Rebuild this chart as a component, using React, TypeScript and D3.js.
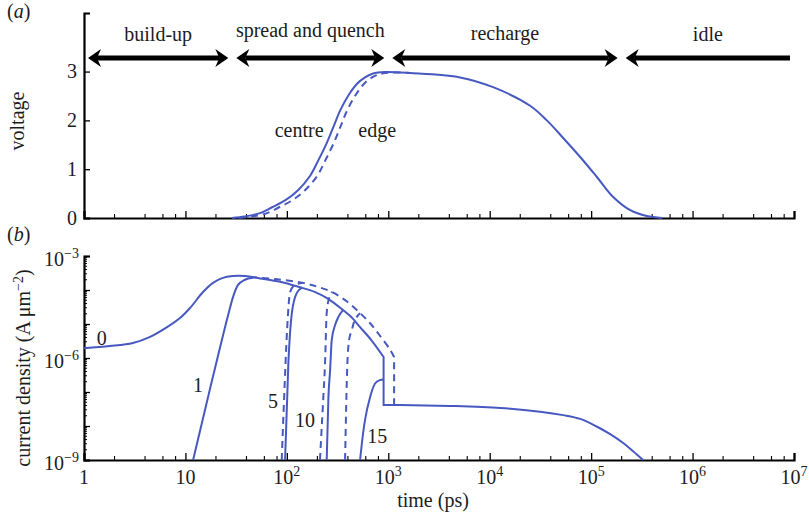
import React, { useEffect, useRef } from 'react'
import * as d3 from 'd3'

// phases shown by the arrows on top (time in ps)
const phaseNames = ['build-up', 'spread and quench', 'recharge', 'idle']
const phaseBounds = [1, 29, 1000, 2e5, 1e7]

// (a) voltage at centre and edge
const centreTime = [28.8, 38.6, 54.4, 71.5, 96, 129, 169, 203, 249, 292, 335, 401, 492, 590, 708, 930, 1640, 5100, 10800, 25000, 36600, 53000, 78000, 114000, 165000, 243000, 354000, 500000]
const centreVolt = [0, 0.03, 0.1, 0.22, 0.36, 0.57, 0.86, 1.17, 1.55, 1.9, 2.2, 2.5, 2.75, 2.88, 2.96, 2.99, 2.97, 2.88, 2.68, 2.3, 2.0, 1.64, 1.25, 0.84, 0.43, 0.16, 0.04, 0]
const edgeTime = [33.8, 45.4, 63.8, 83.8, 112.5, 151, 199, 238, 292, 342, 392, 470, 577, 692, 830, 1090, 1640]
const edgeVolt = [0, 0.03, 0.1, 0.22, 0.36, 0.57, 0.86, 1.17, 1.55, 1.9, 2.2, 2.5, 2.75, 2.88, 2.95, 2.98, 2.97]

// (b) current density, solid = centre
const j0Time = [1, 1.8, 3.04, 4.48, 6.59, 8.85, 11.1, 14.9, 18.7, 23, 29.5, 38.7, 54.4, 85.8, 135, 190, 249, 358, 440, 527, 692, 899]
const j0Val = [1.95e-6, 2.24e-6, 2.75e-6, 4.17e-6, 8.1e-6, 1.5e-5, 2.95e-5, 8.7e-5, 1.62e-4, 2.24e-4, 2.57e-4, 2.57e-4, 2.19e-4, 1.74e-4, 1.2e-4, 8.7e-5, 5.75e-5, 2.57e-5, 1.51e-5, 8.1e-6, 3.16e-6, 1.07e-6]
const tailTime = [899, 1306, 4070, 12700, 31400, 53000, 78000, 114600, 154000, 207000, 259000, 326000]
const tailVal = [4.17e-8, 4.17e-8, 3.89e-8, 3.39e-8, 2.63e-8, 2.09e-8, 1.62e-8, 9.5e-9, 5.75e-9, 3.16e-9, 1.82e-9, 1e-9]
const j1Time = [11.9, 14.3, 17.5, 21.9, 26.3, 29.5, 33, 38.6, 46.4]
const j1Val = [1e-9, 1e-8, 1.26e-7, 2e-6, 1.78e-5, 6.3e-5, 1.41e-4, 2e-4, 2.29e-4]
const j5Time = [96, 103.5, 112, 125, 140]
const j5Val = [1e-9, 7.1e-7, 2.09e-5, 8.1e-5, 1.15e-4]
const j10Time = [247, 257, 267, 277, 299, 322, 358]
const j10Val = [1e-9, 7.2e-8, 4.5e-7, 3.4e-6, 9.3e-6, 1.62e-5, 2.57e-5]
const j15Time = [527, 568, 590, 662, 741, 830, 899]
const j15Val = [1e-9, 7.1e-9, 1.51e-8, 7.1e-8, 1.78e-7, 2.24e-7, 2.34e-7]

// dashed = edge
const edgeEnvTime = [43.4, 76.5, 144.5, 203, 279, 392, 527, 662, 830, 1042, 1141, 1141]
const edgeEnvVal = [2.4e-4, 2.09e-4, 1.62e-4, 1.23e-4, 8.7e-5, 4.57e-5, 2.09e-5, 1.05e-5, 4.47e-6, 1.74e-6, 1.07e-6, 4.17e-8]
const e5Time = [89, 93.8, 100.5, 107.6, 120.6, 144.5]
const e5Val = [1e-9, 5.75e-8, 6.6e-6, 8.7e-5, 1.41e-4, 1.62e-4]
const e10Time = [212, 228, 238, 247, 261, 279]
const e10Val = [1e-9, 5.75e-8, 7.1e-7, 2.09e-5, 5.75e-5, 8.7e-5]
const e15Time = [375, 395, 411, 437, 460, 489, 527]
const e15Val = [1e-9, 6.9e-7, 3.39e-6, 6.6e-6, 1.15e-5, 1.62e-5, 2.09e-5]

// curve labels
const curveNames = ['0', '1', '5', '10', '15']
const curveNameTime = [1.5, 13.3, 73, 151, 777]
const curveNameVal = [2.4e-6, 1e-7, 3.4e-8, 9.3e-9, 3.2e-9]

const W = 809
const H = 517
const BLUE = '#4759c1'
const INK = '#1c1c1c'
const FONT = '"Liberation Serif", "Times New Roman", serif'

const zip = (a: number[], b: number[]) => a.map((v, i) => [v, b[i]] as [number, number])

export default function App () {
  const ref = useRef<SVGSVGElement>(null)

  useEffect(() => {
    const svg = d3.select(ref.current)
    svg.selectAll('*').remove()

    const x = d3.scaleLog().domain([1, 1e7]).range([84, 794])
    const v = d3.scaleLinear().domain([0, 4.2]).range([218, 13])
    const j = d3.scaleLog().domain([1e-9, 1e-3]).range([460, 256])

    const majors = d3.range(0, 8).map(e => 10 ** e)
    const minors: number[] = []
    for (let e = 0; e < 7; e++) [2, 4, 6, 8].forEach(m => minors.push(m * 10 ** e))

    const g = svg.append('g').attr('font-family', FONT).attr('fill', INK)

    // ---------- x axes (both panels) ----------
    const drawX = (y0: number) => {
      const ax = g.append('g').attr('transform', `translate(0,${y0})`)
        .call(d3.axisBottom(x).tickValues(majors).tickSizeInner(-7).tickSizeOuter(-7).tickFormat(() => ''))
      ax.select('.domain').attr('stroke', '#000').attr('stroke-width', 2.2)
      ax.selectAll('.tick line').attr('stroke', '#000').attr('stroke-width', 1.3)
      ax.selectAll('.tick text').remove()
      ax.selectAll('.minor').data(minors).enter().append('line')
        .attr('x1', d => x(d)).attr('x2', d => x(d))
        .attr('y1', 0).attr('y2', -4)
        .attr('stroke', '#000').attr('stroke-width', 1.1)
    }
    drawX(218)
    drawX(460)

    // x tick labels, bottom panel
    majors.forEach((d, e) => {
      const t = g.append('text').attr('x', x(d)).attr('y', 484)
        .attr('text-anchor', 'middle').attr('font-size', 20)
      if (e === 0) t.text('1')
      else if (e === 1) t.text('10')
      else {
        t.append('tspan').text('10')
        t.append('tspan').attr('dy', -8).attr('font-size', 14).text(String(e))
      }
    })
    g.append('text').attr('x', 433).attr('y', 507).attr('text-anchor', 'middle')
      .attr('font-size', 20).text('time (ps)')

    // ---------- y axis (a) ----------
    const ay = g.append('g').attr('transform', 'translate(84,0)')
      .call(d3.axisLeft(v).tickValues([0, 1, 2, 3]).tickSizeInner(-6).tickSizeOuter(-6).tickFormat(() => ''))
    ay.select('.domain').attr('stroke', '#000').attr('stroke-width', 2.2)
    ay.selectAll('.tick line').attr('stroke', '#000').attr('stroke-width', 1.3)
    ay.selectAll('.tick text').remove()
    ;[0, 1, 2, 3].forEach(d => {
      g.append('text').attr('x', 77).attr('y', v(d)).attr('dy', '0.34em')
        .attr('text-anchor', 'end').attr('font-size', 20).text(String(d))
    })
    g.append('text').attr('transform', 'translate(24,121) rotate(-90)')
      .attr('text-anchor', 'middle').attr('font-size', 20).text('voltage')

    // ---------- y axis (b) ----------
    const decades = d3.range(-9, -2).map(e => 10 ** e)
    const jMinor: number[] = []
    for (let e = -9; e < -3; e++) d3.range(2, 10).forEach(m => jMinor.push(m * 10 ** e))
    const by = g.append('g').attr('transform', 'translate(84,0)')
      .call(d3.axisLeft(j).tickValues(decades).tickSizeInner(-6).tickSizeOuter(-6).tickFormat(() => ''))
    by.select('.domain').attr('stroke', '#000').attr('stroke-width', 2.2)
    by.selectAll('.tick line').attr('stroke', '#000').attr('stroke-width', 1.3)
    by.selectAll('.tick text').remove()
    by.selectAll('.minor').data(jMinor).enter().append('line')
      .attr('x1', 0).attr('x2', 3).attr('y1', d => j(d)).attr('y2', d => j(d))
      .attr('stroke', '#000').attr('stroke-width', 1)
    ;[-3, -6, -9].forEach(e => {
      const t = g.append('text').attr('x', 79).attr('y', j(10 ** e) + 10)
        .attr('text-anchor', 'end').attr('font-size', 20)
      t.append('tspan').text('10')
      t.append('tspan').attr('dy', -8).attr('font-size', 14).text('\u2212' + (-e))
    })
    const yl = g.append('text').attr('transform', 'translate(30,368) rotate(-90)')
      .attr('text-anchor', 'middle').attr('font-size', 20)
    yl.append('tspan').text('current density (A \u03bcm')
    yl.append('tspan').attr('dy', -7).attr('font-size', 14).text('\u22122')
    yl.append('tspan').attr('dy', 7).text(')')

    // panel labels
    const pa = g.append('text').attr('x', 7).attr('y', 18).attr('font-size', 20)
    pa.append('tspan').text('(')
    pa.append('tspan').attr('font-style', 'italic').text('a')
    pa.append('tspan').text(')')
    const pb = g.append('text').attr('x', 7).attr('y', 241).attr('font-size', 20)
    pb.append('tspan').text('(')
    pb.append('tspan').attr('font-style', 'italic').text('b')
    pb.append('tspan').text(')')

    // ---------- phase arrows ----------
    const ay0 = 58
    const head = (tip: number, dir: number) =>
      `M${tip},${ay0}L${tip - dir * 13},${ay0 - 9}L${tip - dir * 9},${ay0}L${tip - dir * 13},${ay0 + 9}Z`
    const labelY = [41, 37, 40, 41]
    phaseNames.forEach((name, i) => {
      const x1 = x(phaseBounds[i]) + 4
      const x2 = x(phaseBounds[i + 1]) - 4
      const last = i === phaseNames.length - 1
      g.append('line').attr('x1', x1 + 9).attr('x2', last ? x2 : x2 - 9)
        .attr('y1', ay0).attr('y2', ay0).attr('stroke', '#000').attr('stroke-width', 5)
      g.append('path').attr('d', head(x1, -1)).attr('fill', '#000')
      if (!last) g.append('path').attr('d', head(x2, 1)).attr('fill', '#000')
      g.append('text').attr('x', (x1 + x2) / 2).attr('y', labelY[i])
        .attr('text-anchor', 'middle').attr('font-size', 20).text(name)
    })

    // ---------- curves (a) ----------
    const smooth = d3.curveCatmullRom.alpha(0.5)
    const lineV = d3.line<[number, number]>().x(d => x(d[0])).y(d => v(d[1])).curve(smooth)
    const plot = g.append('g').attr('fill', 'none').attr('stroke', BLUE).attr('stroke-width', 2)
    plot.append('path').attr('d', lineV(zip(edgeTime, edgeVolt))).attr('stroke-dasharray', '7,5')
    plot.append('path').attr('d', lineV(zip(centreTime, centreVolt)))
    g.append('text').attr('x', x(132)).attr('y', v(1.66)).attr('text-anchor', 'middle')
      .attr('font-size', 20).text('centre')
    g.append('text').attr('x', x(777)).attr('y', v(1.66)).attr('text-anchor', 'middle')
      .attr('font-size', 20).text('edge')

    // ---------- curves (b) ----------
    const lineJ = d3.line<[number, number]>().x(d => x(d[0])).y(d => j(d[1])).curve(d3.curveMonotoneX)
    const lineJs = d3.line<[number, number]>().x(d => x(d[0])).y(d => j(d[1])).curve(smooth)
    const solid0 = (lineJs(zip(j0Time, j0Val)) || '') + (lineJs(zip(tailTime, tailVal)) || '').replace(/^M/, 'L')
    plot.append('path').attr('d', solid0)
    ;[[j1Time, j1Val], [j5Time, j5Val], [j10Time, j10Val], [j15Time, j15Val]].forEach(([t, c]) => {
      plot.append('path').attr('d', lineJ(zip(t, c)))
    })
    const envPts = zip(edgeEnvTime, edgeEnvVal)
    const envPath = (lineJs(envPts.slice(0, -1)) || '') + `L${x(envPts[envPts.length - 1][0])},${j(envPts[envPts.length - 1][1])}`
    plot.append('path').attr('d', envPath).attr('stroke-dasharray', '7,5')
    ;[[e5Time, e5Val], [e10Time, e10Val], [e15Time, e15Val]].forEach(([t, c]) => {
      plot.append('path').attr('d', lineJ(zip(t, c))).attr('stroke-dasharray', '7,5')
    })
    curveNames.forEach((n, i) => {
      g.append('text').attr('x', x(curveNameTime[i])).attr('y', j(curveNameVal[i]))
        .attr('text-anchor', 'middle').attr('font-size', 20).text(n)
    })
  }, [])

  return (
    <svg
      ref={ref}
      width={W}
      height={H}
      viewBox={`0 0 ${W} ${H}`}
      style={{ position: 'absolute', left: 0, top: 0, background: '#fff' }}
    />
  )
}
